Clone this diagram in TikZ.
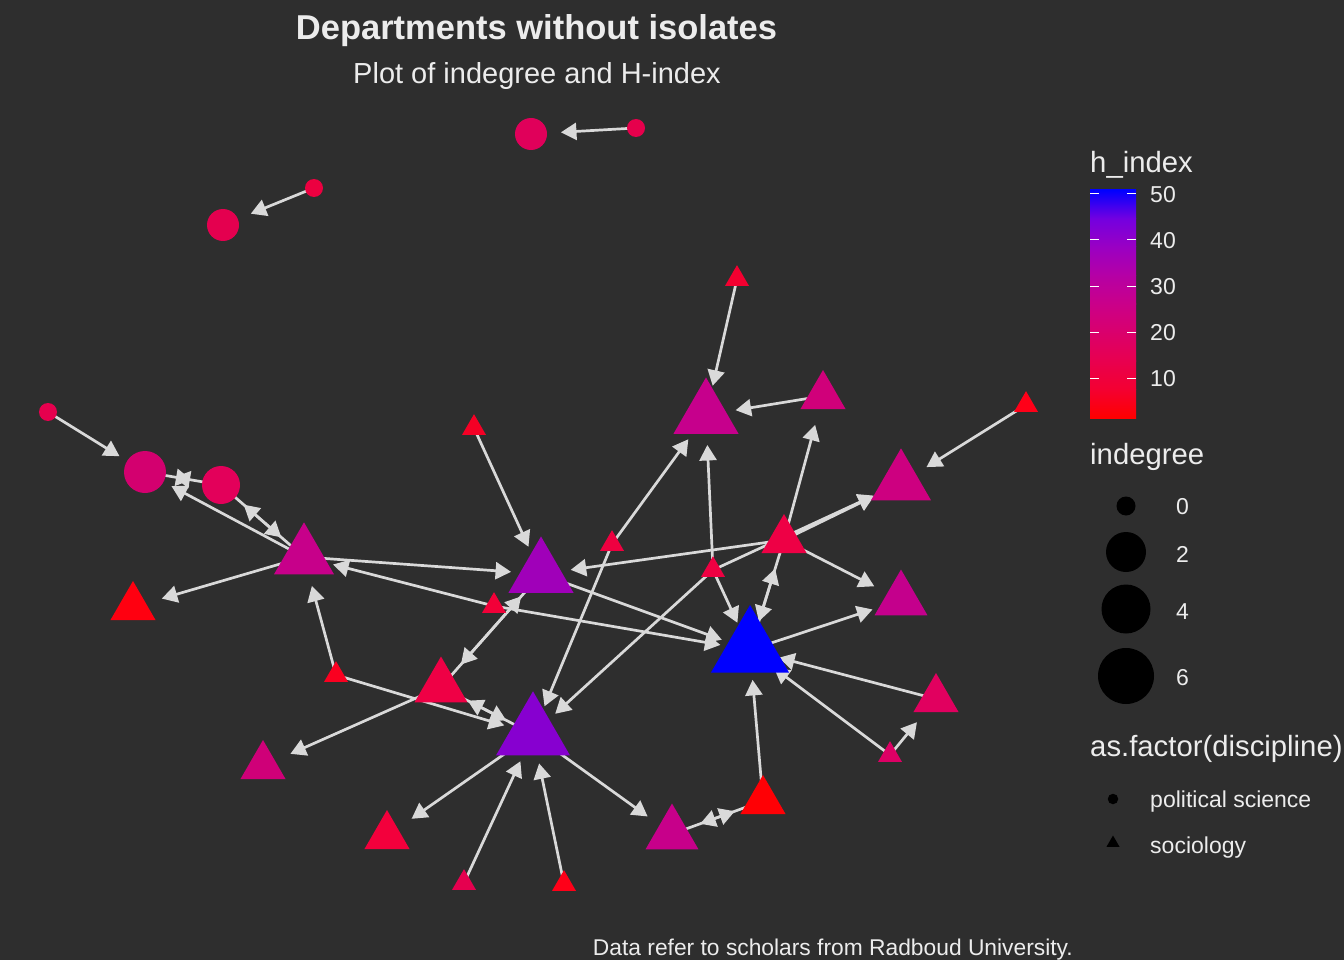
\documentclass[tikz,border=0pt]{standalone}
\usepackage{fontspec}
\setmainfont{Liberation Sans}
\usetikzlibrary{arrows.meta,shapes.geometric,backgrounds}
\definecolor{bgc}{RGB}{46,46,46}
\definecolor{edgec}{RGB}{217,217,217}
\definecolor{txtc}{RGB}{236,236,236}
% gradient stops
\definecolor{hc0}{HTML}{FF0000}
\definecolor{hc1}{HTML}{F40031}
\definecolor{hc2}{HTML}{E8004F}
\definecolor{hc3}{HTML}{DA006C}
\definecolor{hc4}{HTML}{CA0089}
\definecolor{hc5}{HTML}{B500A5}
\definecolor{hc6}{HTML}{9A00C3}
\definecolor{hc7}{HTML}{7300E0}
\definecolor{hc8}{HTML}{0000FF}
% node colours
\definecolor{cC1}{HTML}{E0005A}
\definecolor{cC2}{HTML}{E6004C}
\definecolor{cC3}{HTML}{E4004F}
\definecolor{cC4}{HTML}{EC0040}
\definecolor{cC5}{HTML}{E6004E}
\definecolor{cC6}{HTML}{D3006F}
\definecolor{cC7}{HTML}{E3005A}
\definecolor{cT1}{HTML}{F30030}
\definecolor{cT2}{HTML}{C6008C}
\definecolor{cT3}{HTML}{D0007A}
\definecolor{cT4}{HTML}{FF0018}
\definecolor{cT5}{HTML}{CD0080}
\definecolor{cT6}{HTML}{F50025}
\definecolor{cT7}{HTML}{C7008A}
\definecolor{cT8}{HTML}{A000B9}
\definecolor{cT9}{HTML}{EE0040}
\definecolor{cT10}{HTML}{EE0045}
\definecolor{cT11}{HTML}{EE0042}
\definecolor{cT12}{HTML}{C4008C}
\definecolor{cT13}{HTML}{F20038}
\definecolor{cT14}{HTML}{FF0010}
\definecolor{cT15}{HTML}{0000FF}
\definecolor{cT16}{HTML}{FA0020}
\definecolor{cT17}{HTML}{EF0045}
\definecolor{cT18}{HTML}{8700D0}
\definecolor{cT19}{HTML}{E1005F}
\definecolor{cT20}{HTML}{DD0065}
\definecolor{cT21}{HTML}{CF0078}
\definecolor{cT22}{HTML}{F3003C}
\definecolor{cT23}{HTML}{C7008A}
\definecolor{cT24}{HTML}{FF0005}
\definecolor{cT25}{HTML}{E5004F}
\definecolor{cT26}{HTML}{FF0018}
\tikzset{
  pn/.style={circle, draw=none, inner sep=0pt, outer sep=0pt, minimum size=#1},
  tn/.style={regular polygon, regular polygon sides=3, draw=none, inner sep=0pt, outer sep=0pt, minimum size=#1},
  cz0/.style={pn=18pt}, cz1/.style={pn=32pt}, cz2/.style={pn=38pt}, cz3/.style={pn=42pt},
  tz0/.style={tn=27.7pt}, tz1/.style={tn=52pt}, tz2/.style={tn=61pt}, tz3/.style={tn=69.3pt},
  tz4/.style={tn=75.1pt}, tz6/.style={tn=85.4pt}, tz7/.style={tn=90.1pt},
  lnk/.style={draw=edgec, line width=2.7pt, -{Triangle[length=15.5pt,width=17pt]}, shorten >=30pt},
  lgt/.style={text=txtc, font=\fontsize{29.3}{34}\selectfont, inner sep=0pt},
  lgl/.style={text=txtc, font=\fontsize{23}{27}\selectfont, inner sep=0pt},
  tick/.style={draw=white, line width=1pt},
}
\begin{document}
\begin{tikzpicture}[x=1pt,y=-1pt]
\useasboundingbox (0,0) rectangle (1344,960);
% ---------- nodes: political science (circles)
\node[cz1, fill=cC1] (C1) at (531,134) {};
\node[cz0, fill=cC2] (C2) at (636,128) {};
\node[cz1, fill=cC3] (C3) at (223,225) {};
\node[cz0, fill=cC4] (C4) at (314,188) {};
\node[cz0, fill=cC5] (C5) at (48,412) {};
\node[cz3, fill=cC6] (C6) at (145,472) {};
\node[cz2, fill=cC7] (C7) at (221,485) {};
% ---------- nodes: sociology (triangles)
\node[tz0, fill=cT1] (T1) at (737,279) {};
\node[tz4, fill=cT2] (T2) at (706,415) {};
\node[tz1, fill=cT3] (T3) at (823,396) {};
\node[tz0, fill=cT4] (T4) at (1026,405) {};
\node[tz3, fill=cT5] (T5) at (901,483) {};
\node[tz0, fill=cT6] (T6) at (474,428) {};
\node[tz3, fill=cT7] (T7) at (304,557) {};
\node[tz4, fill=cT8] (T8) at (541,574) {};
\node[tz0, fill=cT9] (T9) at (612,544) {};
\node[tz1, fill=cT10] (T10) at (784,540) {};
\node[tz0, fill=cT11] (T11) at (713,570) {};
\node[tz2, fill=cT12] (T12) at (901,600) {};
\node[tz0, fill=cT13] (T13) at (494,606) {};
\node[tz1, fill=cT14] (T14) at (133,607) {};
\node[tz7, fill=cT15] (T15) at (750,650) {};
\node[tz0, fill=cT16] (T16) at (336,675) {};
\node[tz2, fill=cT17] (T17) at (441,687) {};
\node[tz6, fill=cT18] (T18) at (533,734) {};
\node[tz1, fill=cT19] (T19) at (936,699) {};
\node[tz0, fill=cT20] (T20) at (890,755) {};
\node[tz1, fill=cT21] (T21) at (263,766) {};
\node[tz1, fill=cT22] (T22) at (387,836) {};
\node[tz2, fill=cT23] (T23) at (672,834) {};
\node[tz1, fill=cT24] (T24) at (763,801) {};
\node[tz0, fill=cT25] (T25) at (464,883) {};
\node[tz0, fill=cT26] (T26) at (564,884) {};
% ---------- background and connectors
\begin{scope}[on background layer]
\fill[bgc] (0,0) rectangle (1344,960);
\draw[lnk] (C2.center) -- (C1.center);
\draw[lnk] (C4.center) -- (C3.center);
\draw[lnk] (C5.center) -- (C6.center);
\draw[lnk] (C6.center) -- (C7.center);
\draw[lnk] (C7.center) -- (C6.center);
\draw[lnk] (T7.center) -- (C6.center);
\draw[lnk] (C7.center) -- (T7.center);
\draw[lnk] (T7.center) -- (C7.center);
\draw[lnk] (T7.center) -- (T8.center);
\draw[lnk] (T7.center) -- (T14.center);
\draw[lnk] (T13.center) -- (T7.center);
\draw[lnk] (T16.center) -- (T7.center);
\draw[lnk] (T16.center) -- (T18.center);
\draw[lnk] (T13.center) -- (T15.center);
\draw[lnk] (T8.center) -- (T15.center);
\draw[lnk] (T6.center) -- (T8.center);
\draw[lnk] (T10.center) -- (T8.center);
\draw[lnk] (T17.center) -- (T8.center);
\draw[lnk] (T8.center) -- (T17.center);
\draw[lnk] (T17.center) -- (T18.center);
\draw[lnk] (T18.center) -- (T17.center);
\draw[lnk] (T17.center) -- (T21.center);
\draw[lnk] (T9.center) -- (T2.center);
\draw[lnk] (T9.center) -- (T18.center);
\draw[lnk] (T11.center) -- (T2.center);
\draw[lnk] (T11.center) -- (T15.center);
\draw[lnk] (T11.center) -- (T18.center);
\draw[lnk] (T11.center) -- (T5.center);
\draw[lnk] (T10.center) -- (T5.center);
\draw[lnk] (T10.center) -- (T3.center);
\draw[lnk] (T10.center) -- (T12.center);
\draw[lnk] (T10.center) -- (T15.center);
\draw[lnk] (T15.center) -- (T10.center);
\draw[lnk] (T15.center) -- (T12.center);
\draw[lnk] (T19.center) -- (T15.center);
\draw[lnk] (T20.center) -- (T15.center);
\draw[lnk] (T20.center) -- (T19.center);
\draw[lnk] (T24.center) -- (T15.center);
\draw[lnk] (T24.center) -- (T23.center);
\draw[lnk] (T23.center) -- (T24.center);
\draw[lnk] (T18.center) -- (T23.center);
\draw[lnk] (T18.center) -- (T22.center);
\draw[lnk] (T25.center) -- (T18.center);
\draw[lnk] (T26.center) -- (T18.center);
\draw[lnk] (T1.center) -- (T2.center);
\draw[lnk] (T3.center) -- (T2.center);
\draw[lnk] (T4.center) -- (T5.center);
\end{scope}
% ---------- titles
\node[text=txtc, font=\fontsize{34.5}{40}\selectfont\bfseries, anchor=base, inner sep=0pt] (ttl) at (536.5,40) {Departments without isolates};
\node[text=txtc, font=\fontsize{29}{34}\selectfont, anchor=base, inner sep=0pt] (sub) at (537,84) {Plot of indegree and H-index};
\node[text=txtc, font=\fontsize{22.8}{27}\selectfont, inner sep=0pt, anchor=base east] (cap) at (1073,955) {Data refer to scholars from Radboud University.};
% ---------- legend: h_index
\node[lgt, anchor=base west] (lh) at (1090,173) {h\_index};
\shade[bottom color=hc0, top color=hc1] (1090,418) rectangle (1136,389.2);
\shade[bottom color=hc1, top color=hc2] (1090,389.5) rectangle (1136,360.7);
\shade[bottom color=hc2, top color=hc3] (1090,361) rectangle (1136,332.2);
\shade[bottom color=hc3, top color=hc4] (1090,332.5) rectangle (1136,303.7);
\shade[bottom color=hc4, top color=hc5] (1090,304) rectangle (1136,275.2);
\shade[bottom color=hc5, top color=hc6] (1090,275.5) rectangle (1136,246.7);
\shade[bottom color=hc6, top color=hc7] (1090,247) rectangle (1136,218.2);
\shade[bottom color=hc7, top color=hc8] (1090,218.5) rectangle (1136,190);
\foreach \yy in {194,240,286,332,378} {
  \draw[tick] (1090,\yy) -- (1099,\yy);
  \draw[tick] (1127,\yy) -- (1136,\yy);
}
\node[lgl, anchor=west] (l50) at (1150,195) {50};
\node[lgl, anchor=west] (l40) at (1150,241) {40};
\node[lgl, anchor=west] (l30) at (1150,287) {30};
\node[lgl, anchor=west] (l20) at (1150,333) {20};
\node[lgl, anchor=west] (l10) at (1150,379) {10};
% ---------- legend: indegree
\node[lgt, anchor=base west] (li) at (1090,464) {indegree};
\node[pn=19pt, fill=black] (s0) at (1126,506) {};
\node[pn=40pt, fill=black] (s2) at (1126,552) {};
\node[pn=49pt, fill=black] (s4) at (1126,609) {};
\node[pn=56pt, fill=black] (s6) at (1126,676) {};
\node[lgl, anchor=west] (n0) at (1176,507) {0};
\node[lgl, anchor=west] (n2) at (1176,554) {2};
\node[lgl, anchor=west] (n4) at (1176,612) {4};
\node[lgl, anchor=west] (n6) at (1176,678) {6};
% ---------- legend: discipline
\node[lgt, anchor=base west] (ld) at (1090,756) {as.factor(discipline)};
\node[pn=10.5pt, fill=black] (kp) at (1113,799) {};
\node[tn=15pt, fill=black] (ks) at (1113,843) {};
\node[lgl, anchor=mid west] (tp) at (1150,805) {political science};
\node[lgl, anchor=mid west] (ts) at (1150,851) {sociology};
\end{tikzpicture}
\end{document}
